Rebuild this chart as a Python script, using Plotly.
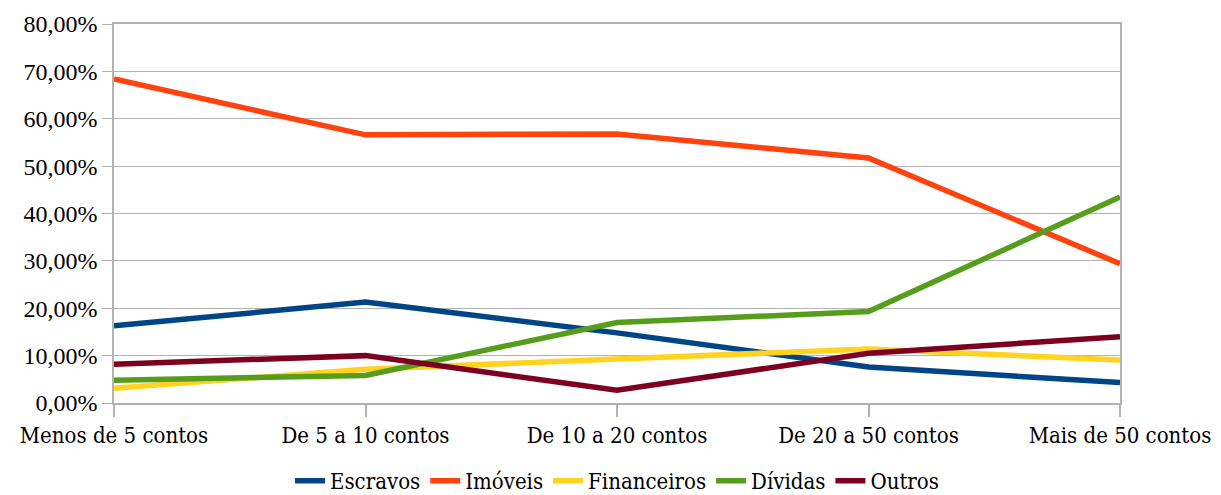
import plotly.graph_objects as go

categories = ["Menos de 5 contos", "De 5 a 10 contos", "De 10 a 20 contos",
              "De 20 a 50 contos", "Mais de 50 contos"]
escravos = [16.3, 21.3, 14.8, 7.6, 4.3]
imoveis = [68.4, 56.6, 56.8, 51.7, 29.4]
financeiros = [3.1, 7.1, 9.3, 11.4, 9.1]
dividas = [4.8, 5.8, 17.0, 19.3, 43.5]
outros = [8.2, 10.0, 2.7, 10.5, 14.0]

series = [
    ("Escravos", escravos, "#004586"),
    ("Imóveis", imoveis, "#ff420e"),
    ("Financeiros", financeiros, "#ffd320"),
    ("Dívidas", dividas, "#579d1c"),
    ("Outros", outros, "#7e0021"),
]

YFONT = dict(family="Liberation Serif", size=24, color="#000000")
TFONT = dict(family="DejaVu Serif Condensed", size=22, color="#000000")

xs = list(range(len(categories)))
fig = go.Figure()
for name, vals, color in series:
    fig.add_trace(go.Scatter(x=xs, y=vals, name=name, mode="lines",
                             line=dict(color=color, width=5.5)))

fig.update_layout(
    width=1213, height=487,
    margin=dict(l=106, r=101, t=16, b=92, autoexpand=False),
    paper_bgcolor="white", plot_bgcolor="white",
    font=TFONT,
    separators=",.",
    showlegend=True,
    legend=dict(orientation="h", x=0.5, xanchor="center", y=-0.15, yanchor="top",
                font=TFONT, itemwidth=30, tracegroupgap=0),
    xaxis=dict(range=[0, 4], tickmode="array", tickvals=xs, ticktext=categories,
               automargin=False,
               showgrid=False, zeroline=False, showline=True, linecolor="#b3b3b3",
               linewidth=1.5, mirror=True, ticks="outside", ticklen=12,
               tickcolor="#b3b3b3", tickwidth=1.5, tickfont=TFONT),
    yaxis=dict(range=[0, 80], dtick=10, tickformat=".2f", ticksuffix="%",
               automargin=False,
               showgrid=True, gridcolor="#b3b3b3", gridwidth=1.2, zeroline=False,
               showline=True, linecolor="#b3b3b3", linewidth=1.5, mirror=True,
               ticks="outside", ticklen=10, tickcolor="#b3b3b3", tickwidth=1.2,
               tickfont=YFONT),
)
fig.write_html("out.html")
